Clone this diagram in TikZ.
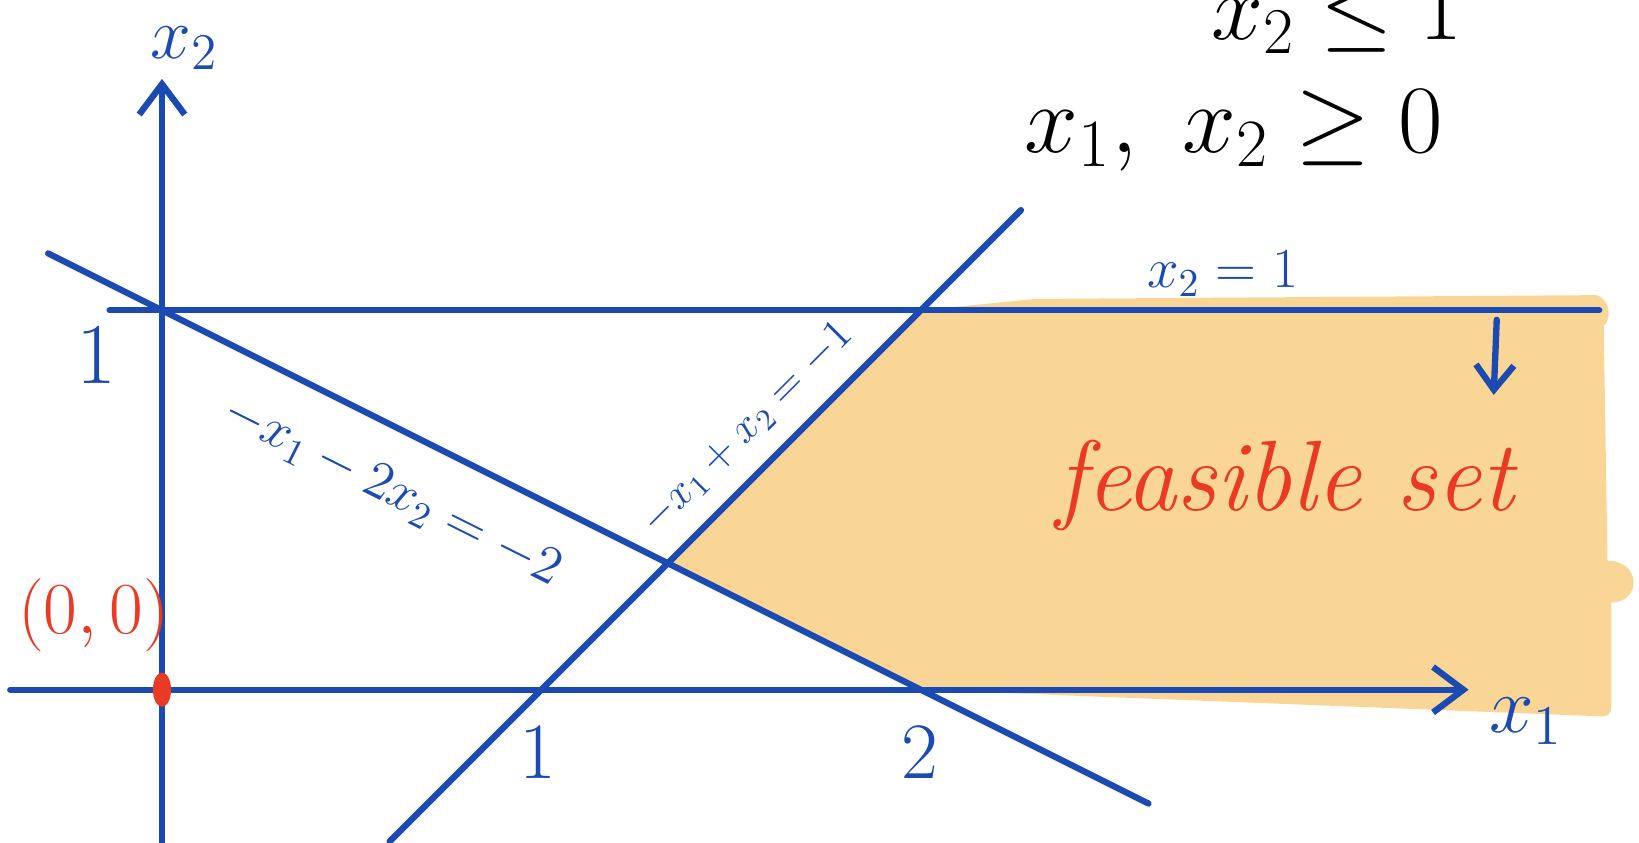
\documentclass[tikz,border=0pt]{standalone}
\usepackage{fix-cm}
\usepackage{amsmath,amssymb}
\usetikzlibrary{arrows.meta}
\definecolor{penblue}{RGB}{26,74,178}
\definecolor{penred}{RGB}{234,58,36}
\definecolor{feasorange}{RGB}{250,214,150}

\begin{document}
\begin{tikzpicture}[x=4cm,y=4cm,>={Straight Barb[length=3.2mm,width=4.8mm]},
  pen/.style={penblue,line width=1.9pt,line cap=round},
  lbl/.style={penblue,inner sep=0pt}]
\useasboundingbox (-0.427,-0.402) rectangle (3.893,1.818);
\fill[feasorange] (2,1) -- (2.3,1.03) -- (3.78,1.04) .. controls (3.82,1.03) and (3.82,0.97) .. (3.80,0.96)
  -- (3.81,0.34) .. controls (3.9,0.34) and (3.9,0.23) .. (3.82,0.23)
  -- (3.82,-0.04) .. controls (3.82,-0.07) and (3.81,-0.07) .. (3.79,-0.07) -- (2,0) -- (4/3,1/3) -- cycle;
\coordinate (o) at (0,0);
\coordinate (ybot) at (0,-0.45);
\coordinate (ytip) at (0,1.61);
\coordinate (xleft) at (-0.4,0);
\coordinate (xtip) at (3.444,0);
\coordinate (hleft) at (-0.138,1);
\coordinate (hright) at (3.788,1);
\coordinate (aup) at (-0.3,1.15);
\coordinate (adown) at (2.6,-0.3);
\coordinate (bdown) at (0.6,-0.4);
\coordinate (bup) at (2.264,1.264);
\coordinate (downstart) at (3.518,0.975);
\coordinate (downtip) at (3.51,0.777);
\draw[pen,->] (ybot) -- (ytip);
\draw[pen,->] (xleft) -- (xtip);
\draw[pen] (hleft) -- (hright);
\draw[pen] (aup) -- (adown);
\draw[pen] (bdown) -- (bup);
\draw[pen,-{Straight Barb[length=2.6mm,width=4mm]}] (downstart) -- (downtip);
\fill[penred] (o) ellipse (0.024 and 0.045);
\node[lbl,font=\fontsize{22}{24}\selectfont] (x2axis) at (0.06,1.69) {$x_2$};
\node[lbl,font=\fontsize{24}{26}\selectfont] (x1axis) at (3.595,-0.083) {$x_1$};
\node[lbl,font=\fontsize{26}{28}\selectfont] (yone) at (-0.174,0.88) {$1$};
\node[lbl,font=\fontsize{24}{26}\selectfont] (xone) at (0.99,-0.165) {$1$};
\node[lbl,font=\fontsize{24}{26}\selectfont] (xtwo) at (1.997,-0.165) {$2$};
\node[lbl,font=\fontsize{16}{18}\selectfont,rotate=-26.57] (lineA) at (0.606,0.523) {$-x_1-2x_2=-2$};
\node[lbl,font=\fontsize{13}{15}\selectfont,rotate=45] (lineB) at (1.543,0.689) {$-x_1+x_2=-1$};
\node[lbl,font=\fontsize{17}{19}\selectfont] (hlab) at (2.796,1.096) {$x_2=1$};
\node[lbl,penred,font=\fontsize{30}{32}\selectfont\itshape] (feas) at (2.961,0.537) {feasible set};
\node[lbl,penred,font=\fontsize{22}{24}\selectfont] (orig) at (-0.18,0.196) {$(0,0)$};
\node[inner sep=0pt,font=\fontsize{28}{30}\selectfont] (cone) at (3.096,1.775) {$x_2\le 1$};
\node[inner sep=0pt,font=\fontsize{29}{31}\selectfont] (ctwo) at (2.824,1.474) {$x_1,\ x_2\ge 0$};
\end{tikzpicture}
\end{document}
